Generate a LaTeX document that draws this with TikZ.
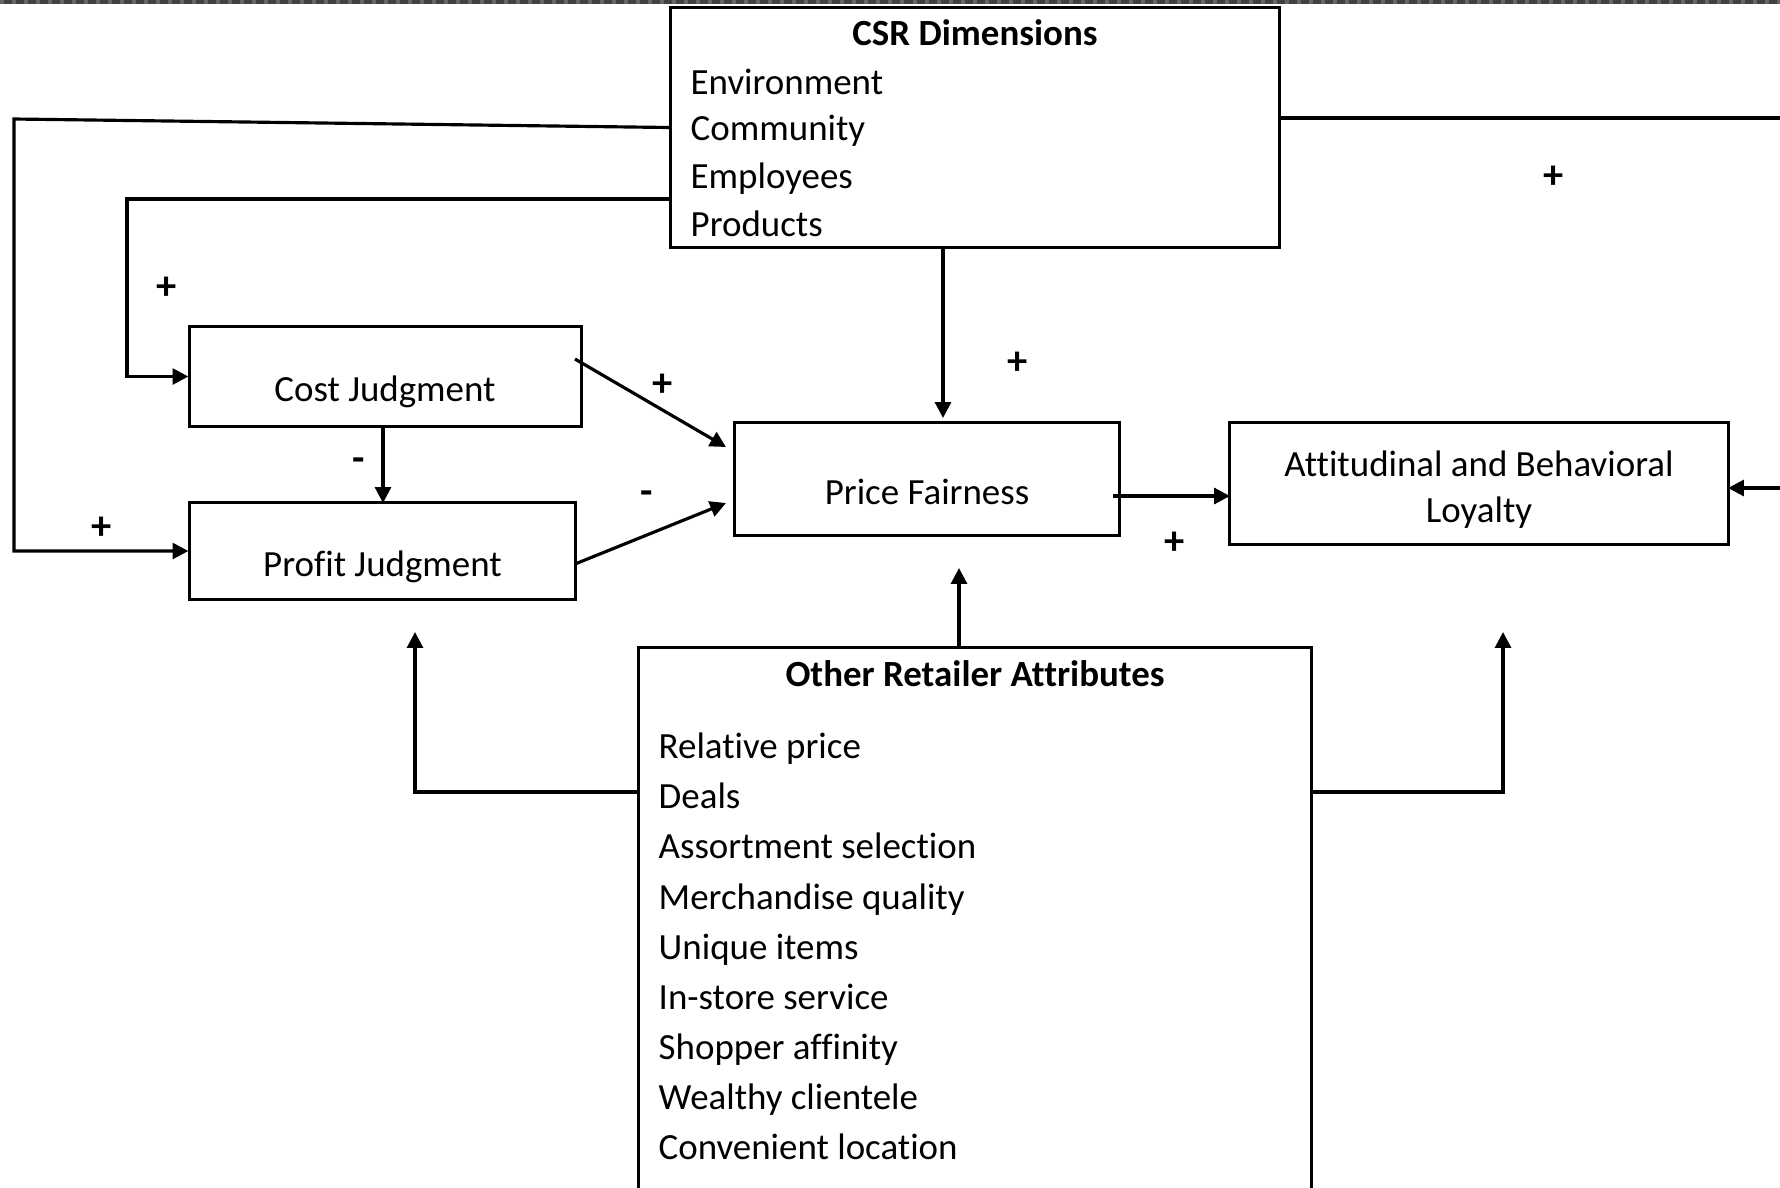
\documentclass[tikz,border=0pt]{standalone}
\usepackage{fontspec}
\setmainfont[Ligatures={NoCommon,NoContextual}]{Carlito}
\usetikzlibrary{arrows.meta}
\tikzset{
  box/.style={draw, line width=0.85pt, rectangle, inner sep=0pt},
  lbl/.style={font=\fontsize{10.5pt}{12pt}\selectfont, inner sep=0pt},
  ttl/.style={font=\fontsize{10.5pt}{12pt}\selectfont\bfseries, inner sep=0pt},
  sgn/.style={font=\fontsize{11.5pt}{12pt}\selectfont\bfseries, inner sep=0pt},
  arr/.style={line width=0.9pt, -{Triangle[length=4.5pt,width=4.5pt]}},
}
\begin{document}
\begin{tikzpicture}[x=0.01cm, y=-0.01cm]
\useasboundingbox (0,0) rectangle (1780,1187);
\clip (0,0) rectangle (1780,1187);
% top strip
\fill[black!75] (0,0) rectangle (1780,3.5);
\draw[black!60, line width=0.035cm, dash pattern=on 0.04cm off 0.08cm] (0,1.75) -- (1780,1.75);

% boxes
\node[box, minimum width=6.08cm, minimum height=2.39cm] (csr) at (975,127.5) {};
\node[box, minimum width=3.91cm, minimum height=0.99cm] (cost) at (385.5,376.5) {};
\node[box, minimum width=3.85cm, minimum height=0.96cm] (profit) at (382.5,551) {};
\node[box, minimum width=3.84cm, minimum height=1.12cm] (pf) at (927,479) {};
\node[box, minimum width=4.98cm, minimum height=1.21cm] (loy) at (1479,483.5) {};
\node[box, minimum width=6.72cm, minimum height=5.72cm] (ora) at (975,934) {};

% texts
\node[ttl] (csrt) at (975,33) {CSR Dimensions};
\node[lbl, anchor=base west] (c1) at (690,94) {Environment};
\node[lbl, anchor=base west] (c2) at (690,140) {Community};
\node[lbl, anchor=base west] (c3) at (690,188) {Employees};
\node[lbl, anchor=base west] (c4) at (690,236) {Products};

\node[lbl, anchor=base] (costt) at (385,401) {Cost Judgment};
\node[lbl, anchor=base] (proft) at (382.5,576) {Profit Judgment};
\node[lbl, anchor=base] (pft) at (927,504) {Price Fairness};
\node[lbl, anchor=base] (loyt1) at (1479,476) {Attitudinal and Behavioral};
\node[lbl, anchor=base] (loyt2) at (1479,522) {Loyalty};

\node[ttl] (orat) at (975,674) {Other Retailer Attributes};
\node[lbl, anchor=base west] (o1) at (658,758) {Relative price};
\node[lbl, anchor=base west] (o2) at (658,808) {Deals};
\node[lbl, anchor=base west] (o3) at (658,858) {Assortment selection};
\node[lbl, anchor=base west] (o4) at (658,909) {Merchandise quality};
\node[lbl, anchor=base west] (o5) at (658,959) {Unique items};
\node[lbl, anchor=base west] (o6) at (658,1009) {In-store service};
\node[lbl, anchor=base west] (o7) at (658,1059) {Shopper affinity};
\node[lbl, anchor=base west] (o8) at (658,1109) {Wealthy clientele};
\node[lbl, anchor=base west] (o9) at (658,1159) {Convenient location};

% signs
\node[sgn] (s1) at (167,288) {+};
\node[sgn] (s2) at (102,528) {+};
\node[sgn] (s3) at (663,385) {+};
\node[sgn] (s4) at (1018,363) {+};
\node[sgn] (s5) at (359,465) {-};
\node[sgn] (s6) at (647,498) {-};
\node[sgn] (s7) at (1175,543) {+};
\node[sgn] (s8) at (1554,177) {+};

% coordinates
\coordinate (a0) at (671,199);
\coordinate (a1) at (127,199);
\coordinate (a2) at (127,376.5);
\coordinate (b1) at (14,119);
\coordinate (b2) at (14,551);
\coordinate (r0) at (1279,118);
\coordinate (r1) at (1800,118);
\coordinate (r2) at (1800,488);
\coordinate (r3) at (1728,488);
\coordinate (cpf0) at (575,359);
\coordinate (cpf1) at (726,447);
\coordinate (ppf0) at (575,564);
\coordinate (ppf1) at (726,503);
\coordinate (cp0) at (383,426);
\coordinate (cp1) at (383,503);
\coordinate (pl0) at (1113,496);
\coordinate (pl1) at (1230,496);
\coordinate (op0) at (959,648);
\coordinate (op1) at (959,568);
\coordinate (cs0) at (943,247);
\coordinate (cs1) at (943,418);
\coordinate (ol0) at (639,792);
\coordinate (ol1) at (415,792);
\coordinate (ol2) at (415,632);
\coordinate (or0) at (1311,792);
\coordinate (or1) at (1503,792);
\coordinate (or2) at (1503,632);

% connectors
\draw[arr] (csr.west) -- (b1) -- (b2) -- (profit.west);
\draw[arr] (a0) -- (a1) -- (a2) -- (cost.west);
\draw[arr] (r0) -- (r1) -- (r2) -- (r3);
\draw[arr] (cs0) -- (cs1);
\draw[arr] (cpf0) -- (cpf1);
\draw[arr] (ppf0) -- (ppf1);
\draw[arr] (cp0) -- (cp1);
\draw[arr] (pl0) -- (pl1);
\draw[arr] (op0) -- (op1);
\draw[arr] (ol0) -- (ol1) -- (ol2);
\draw[arr] (or0) -- (or1) -- (or2);
\end{tikzpicture}
\end{document}
